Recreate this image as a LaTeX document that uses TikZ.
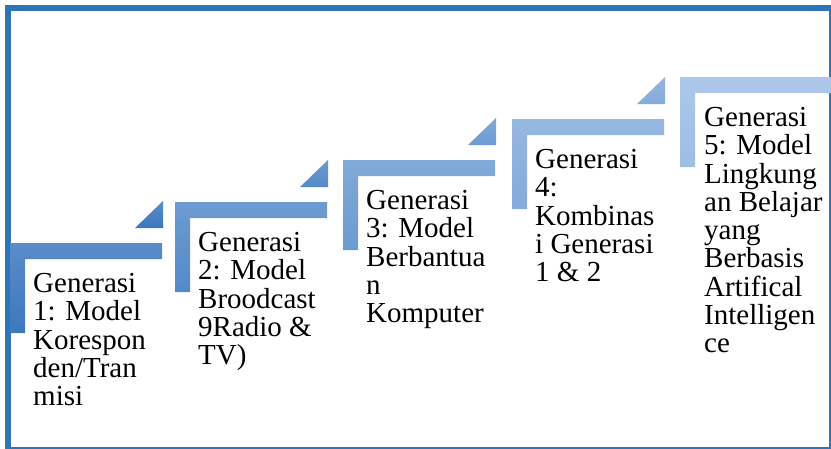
\documentclass[tikz,border=0pt]{standalone}
\usepackage{fontspec}
\setmainfont{Liberation Serif}
\usetikzlibrary{positioning}

\definecolor{framebl}{HTML}{2E75B6}
\definecolor{stepdark}{HTML}{3C78BF}
\definecolor{steplight}{HTML}{A9C5E9}

\tikzset{
    steplabel/.style={anchor=north west,inner sep=0pt,align=left,
        font=\fontsize{29pt}{28.3pt}\selectfont},
}

\begin{document}
\begin{tikzpicture}[x=1pt,y=-1pt]
    \useasboundingbox (0,0) rectangle (831,448);
    \draw[framebl,line width=6pt] (7.5,7.5) rectangle (832,450);
    \foreach \i/\x/\y/\pc in {1/10/243/100, 2/175/202/78, 3/343/160/56, 4/512/119/34, 5/680/77/10}{
        \colorlet{stepbot}{stepdark!\pc!steplight}
        \colorlet{steptop}{stepbot!85!white}
        \shade[top color=steptop,bottom color=stepbot]
            (\x,\y) -- ++(152,0) -- ++(0,16) -- ++(-137,0) -- ++(0,74) -- ++(-15,0) -- cycle;
        \ifnum\i<5
            \shade[top color=steptop,bottom color=stepbot]
                (\x+153,\y-42) -- (\x+153,\y-15) -- (\x+125,\y-15) -- cycle;
        \fi
    }
    \node[steplabel] (gen1) at (33,273) {Generasi\\1: Model\\Korespon\\den/Tran\\misi};
    \node[steplabel] (gen2) at (198,232) {Generasi\\2: Model\\Broodcast\\9Radio \&\\TV)};
    \node[steplabel] (gen3) at (366,190) {Generasi\\3: Model\\Berbantua\\n\\Komputer};
    \node[steplabel] (gen4) at (535,149) {Generasi\\4:\\Kombinas\\i Generasi\\1 \& 2};
    \node[steplabel] (gen5) at (704,107) {Generasi\\5: Model\\Lingkung\\an Belajar\\yang\\Berbasis\\Artifical\\Intelligen\\ce};
\end{tikzpicture}
\end{document}
